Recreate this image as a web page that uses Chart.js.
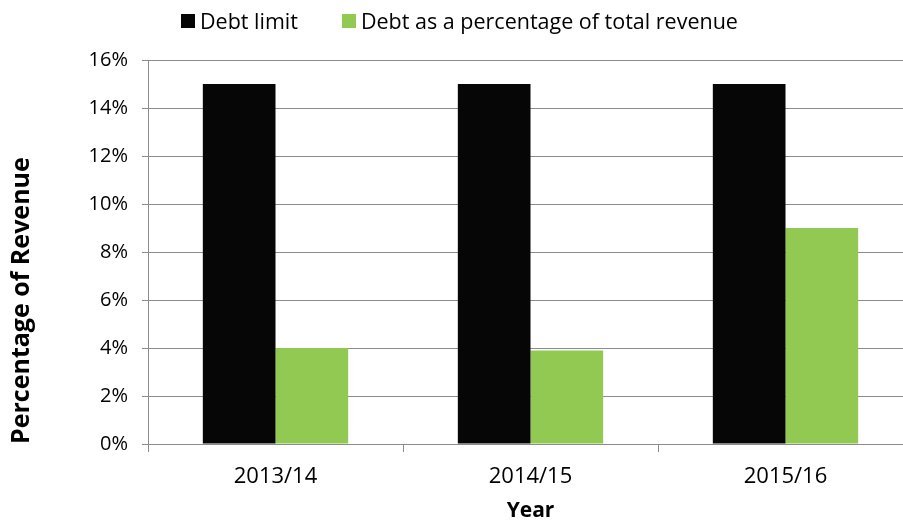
<!DOCTYPE html>
<html>
<head>
<meta charset="utf-8">
<script src="https://cdn.jsdelivr.net/npm/chart.js@4"></script>
<style>
    html, body { margin: 0; padding: 0; background: #fff; overflow: hidden; }
    #wrap { position: relative; width: 915px; height: 524px; }
    #legend {
        position: absolute; top: 6px; left: 181px;
        display: flex; font-family: "Open Sans", sans-serif; font-size: 21.5px; color: #000;
    }
    .legend-item { display: flex; align-items: center; margin-right: 44px; }
    .legend-box { width: 14px; height: 14px; margin-right: 5px; }
</style>
</head>
<body>
<div id="wrap">
    <canvas id="debtChart" width="915" height="524"></canvas>
    <div id="legend"></div>
</div>
<script>
const years = ['2013/14', '2014/15', '2015/16'];
const debtLimit = [15, 15, 15];
const debtShare = [4.0, 3.9, 9.0];
const yTicks = [0, 2, 4, 6, 8, 10, 12, 14, 16];

const gridGrey = '#8c8c8c';
const fontName = '"Open Sans", sans-serif';

const ctx = document.getElementById('debtChart').getContext('2d');
const debtChart = new Chart(ctx, {
    type: 'bar',
    data: {
        labels: years,
        datasets: [
            { label: 'Debt limit', data: debtLimit, backgroundColor: '#060606' },
            { label: 'Debt as a percentage of total revenue', data: debtShare, backgroundColor: '#92c953' }
        ]
    },
    options: {
        responsive: false,
        animation: false,
        categoryPercentage: 0.57,
        barPercentage: 1.0,
        layout: { padding: { top: 60, right: 2, bottom: 0, left: 0 } },
        plugins: {
            legend: { display: false },
            tooltip: { enabled: false }
        },
        scales: {
            x: {
                grid: { drawOnChartArea: false, drawTicks: true, tickLength: 8, color: gridGrey },
                border: { display: true, color: gridGrey },
                ticks: { color: '#000', padding: 12, font: { family: fontName, size: 22 } },
                title: {
                    display: true, text: 'Year', color: '#000',
                    padding: { top: 0, bottom: 0 },
                    font: { family: fontName, size: 21, weight: 'bold' }
                },
                afterFit: function (scale) { scale.height = 80; }
            },
            y: {
                min: 0,
                max: 16,
                afterBuildTicks: function (scale) {
                    scale.ticks = yTicks.map(v => ({ value: v }));
                },
                grid: { color: gridGrey, drawTicks: true, tickLength: 6 },
                border: { display: true, color: gridGrey },
                ticks: {
                    color: '#000', padding: 14,
                    font: { family: fontName, size: 20 },
                    callback: v => v + '%'
                },
                title: {
                    display: true, text: 'Percentage of Revenue', color: '#000',
                    align: 'start',
                    padding: { top: 7, bottom: 0 },
                    font: { family: fontName, size: 25, weight: 'bold' }
                },
                afterFit: function (scale) { scale.width = 148; }
            }
        }
    }
});

// legend built from the datasets
const legend = document.getElementById('legend');
debtChart.data.datasets.forEach(ds => {
    const item = document.createElement('div');
    item.classList.add('legend-item');
    const box = document.createElement('span');
    box.classList.add('legend-box');
    box.style.background = ds.backgroundColor;
    const text = document.createElement('span');
    text.textContent = ds.label;
    item.appendChild(box);
    item.appendChild(text);
    legend.appendChild(item);
});
</script>
</body>
</html>
